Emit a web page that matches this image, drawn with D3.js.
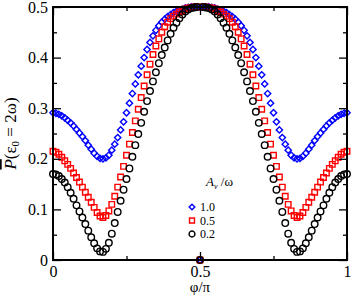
<!DOCTYPE html>
<meta charset="utf-8">
<head>
    <title>Average transition probability vs phase</title>
    <script type="text/javascript" src="https://d3js.org/d3.v7.min.js"></script>
    <style>
        body { margin: 0; background: #fff; }
        svg text { font-family: "Liberation Serif", "Times New Roman", "DejaVu Serif", serif; fill: #000; }
    </style>
</head>
<body>
<script>

    // phase grid phi/pi, step 0.01
    var phi = d3.range(0, 101).map(function(i){ return i / 100; });

    // A_v/omega = 1.0 (blue diamonds)
    var p10 = [0.291,0.290,0.288,0.285,0.281,0.276,0.271,0.265,0.258,0.251,
               0.244,0.236,0.227,0.219,0.211,0.205,0.201,0.200,0.202,0.207,
               0.217,0.229,0.242,0.257,0.273,0.291,0.310,0.329,0.348,0.366,
               0.383,0.400,0.416,0.430,0.443,0.454,0.463,0.470,0.476,0.481,
               0.485,0.489,0.492,0.494,0.496,0.498,0.499,0.500,0.500,0.500,
               0.000,
               0.500,0.500,0.500,0.499,0.498,0.496,0.494,0.492,0.489,0.485,
               0.481,0.476,0.470,0.463,0.454,0.443,0.430,0.416,0.400,0.383,
               0.366,0.348,0.329,0.310,0.291,0.273,0.257,0.242,0.229,0.217,
               0.207,0.202,0.200,0.201,0.205,0.211,0.219,0.227,0.236,0.244,
               0.251,0.258,0.265,0.271,0.276,0.281,0.285,0.288,0.290,0.291];

    // A_v/omega = 0.5 (red squares)
    var p05 = [0.215,0.213,0.209,0.203,0.196,0.189,0.181,0.172,0.163,0.154,
               0.144,0.134,0.124,0.114,0.104,0.094,0.087,0.084,0.088,0.097,
               0.110,0.126,0.144,0.164,0.185,0.207,0.229,0.252,0.275,0.298,
               0.321,0.344,0.366,0.387,0.406,0.423,0.437,0.450,0.461,0.470,
               0.477,0.482,0.486,0.490,0.493,0.496,0.498,0.499,0.500,0.500,
               0.000,
               0.500,0.500,0.499,0.498,0.496,0.493,0.490,0.486,0.482,0.477,
               0.470,0.461,0.450,0.437,0.423,0.406,0.387,0.366,0.344,0.321,
               0.298,0.275,0.252,0.229,0.207,0.185,0.164,0.144,0.126,0.110,
               0.097,0.088,0.084,0.087,0.094,0.104,0.114,0.124,0.134,0.144,
               0.154,0.163,0.172,0.181,0.189,0.196,0.203,0.209,0.213,0.215];

    // A_v/omega = 0.2 (black circles)
    var p02 = [0.170,0.169,0.166,0.160,0.153,0.144,0.133,0.121,0.108,0.096,
               0.084,0.071,0.058,0.045,0.033,0.023,0.017,0.016,0.022,0.034,
               0.052,0.073,0.095,0.117,0.139,0.160,0.181,0.204,0.227,0.249,
               0.271,0.293,0.314,0.334,0.353,0.371,0.389,0.405,0.420,0.434,
               0.447,0.459,0.469,0.478,0.485,0.491,0.495,0.498,0.499,0.500,
               0.000,
               0.500,0.499,0.498,0.495,0.491,0.485,0.478,0.469,0.459,0.447,
               0.434,0.420,0.405,0.389,0.371,0.353,0.334,0.314,0.293,0.271,
               0.249,0.227,0.204,0.181,0.160,0.139,0.117,0.095,0.073,0.052,
               0.034,0.022,0.016,0.017,0.023,0.033,0.045,0.058,0.071,0.084,
               0.096,0.108,0.121,0.133,0.144,0.153,0.160,0.166,0.169,0.170];

    var legendLabels = ["1.0", "0.5", "0.2"];
    var xTicks = [0, 0.5, 1];
    var xMinor = [0.25, 0.75];
    var yTicks = [0, 0.1, 0.2, 0.3, 0.4, 0.5];
    var yMinor = [0.05, 0.15, 0.25, 0.35, 0.45];

    var serif = '"Liberation Serif", "Times New Roman", "DejaVu Serif", serif';

    var margin = {top: 7, right: 7, bottom: 39, left: 53},
        width = 354 - margin.left - margin.right,
        height = 299 - margin.top - margin.bottom;

    var svg = d3.select('body').append('svg')
        .attr('width', 354)
        .attr('height', 299)
        .style('font-family', serif);

    var g = svg.append('g')
        .attr('transform', 'translate(' + margin.left + ',' + margin.top + ')');

    var x = d3.scaleLinear().domain([0, 1]).range([0, width]);
    var y = d3.scaleLinear().domain([0, 0.5]).range([height, 0]);

    // series, drawn blue -> red -> black so black sits on top
    var series = [
        {vals: p10, color: '#0000ff', shape: 'diamond'},
        {vals: p05, color: '#ff0000', shape: 'square'},
        {vals: p02, color: '#000000', shape: 'circle'}
    ];

    function marker(sel, shape, color, sz) {
        var path;
        if (shape == 'circle') path = d3.symbol().type(d3.symbolCircle).size(sz * 1.05);
        else if (shape == 'square') path = d3.symbol().type(d3.symbolSquare).size(sz * 0.95);
        else path = d3.symbol().type(d3.symbolSquare).size(sz * 0.62);
        sel.append('path')
            .attr('d', path)
            .attr('transform', shape == 'diamond' ? 'rotate(45)' : null)
            .attr('fill', 'none')
            .attr('stroke', color)
            .attr('stroke-width', 1.4);
    }

    series.forEach(function(s){
        var pts = g.append('g').selectAll('g')
            .data(s.vals)
            .enter().append('g')
            .attr('transform', function(d, i){ return 'translate(' + x(phi[i]) + ',' + y(d) + ')'; });
        marker(pts, s.shape, s.color, 32);
    });

    // ticks, all pointing inward
    function axisTicks(axis, vals, size) {
        return axis.tickValues(vals).tickSize(-size).tickPadding(5);
    }
    var fmt = function(d){ return d === 0 ? '0' : d3.format('.1f')(d); };
    var fmtX = function(d){ return d === 0 ? '0' : (d === 1 ? '1' : d3.format('.1f')(d)); };

    var axB = g.append('g').attr('transform', 'translate(0,' + height + ')')
        .call(axisTicks(d3.axisBottom(x), xTicks, 8).tickFormat(fmtX));
    g.append('g').attr('transform', 'translate(0,' + height + ')')
        .call(axisTicks(d3.axisBottom(x), xMinor, 4).tickFormat(''));
    g.append('g').call(axisTicks(d3.axisTop(x), xTicks, 8).tickFormat(''));
    g.append('g').call(axisTicks(d3.axisTop(x), xMinor, 4).tickFormat(''));

    var axL = g.append('g').call(axisTicks(d3.axisLeft(y), yTicks, 8).tickFormat(fmt));
    g.append('g').call(axisTicks(d3.axisLeft(y), yMinor, 4).tickFormat(''));
    g.append('g').attr('transform', 'translate(' + width + ',0)')
        .call(axisTicks(d3.axisRight(y), yTicks, 8).tickFormat(''));
    g.append('g').attr('transform', 'translate(' + width + ',0)')
        .call(axisTicks(d3.axisRight(y), yMinor, 4).tickFormat(''));

    g.selectAll('.domain').remove();
    g.selectAll('.tick line').attr('stroke', '#000').attr('stroke-width', 1.3);
    g.selectAll('.tick text').style('font-size', '16px')
        .style('font-family', serif).attr('fill', '#000');
    axB.selectAll('.tick text').attr('dy', null).attr('y', 17);
    axL.selectAll('.tick text').attr('x', -5);

    // frame
    g.append('rect')
        .attr('width', width).attr('height', height)
        .attr('fill', 'none').attr('stroke', '#000').attr('stroke-width', 2);

    // axis titles
    svg.append('text')
        .attr('x', margin.left + x(0.5)).attr('y', 292)
        .attr('text-anchor', 'middle')
        .style('font-size', '15px')
        .text('\u03c6/\u03c0');

    var yl = svg.append('text')
        .attr('transform', 'translate(16,' + (margin.top + y(0.25)) + ') rotate(-90)')
        .attr('text-anchor', 'middle')
        .style('font-size', '17px');
    yl.append('tspan').style('font-style', 'italic').style('text-decoration', 'overline').text('P');
    yl.append('tspan').text('(\u03b5');
    yl.append('tspan').attr('baseline-shift', '-30%').style('font-size', '11px').text('0');
    yl.append('tspan').text(' = 2\u03c9)');

    // legend
    var lg = svg.append('g').attr('transform', 'translate(192,0)');
    var lt = lg.append('text').attr('x', 14).attr('y', 186).style('font-size', '13px');
    lt.append('tspan').style('font-style', 'italic').text('A');
    lt.append('tspan').attr('baseline-shift', '-35%').style('font-size', '8px').style('font-style', 'italic').text('v');
    lt.append('tspan').text(' /\u03c9');

    series.forEach(function(s, i){
        var row = lg.append('g').attr('transform', 'translate(0,' + (207 + i * 13.5) + ')');
        marker(row, s.shape, s.color, 26);
        row.append('text').attr('x', 8).attr('y', 4).style('font-size', '12px').text(legendLabels[i]);
    });

</script>
</body>
</html>
